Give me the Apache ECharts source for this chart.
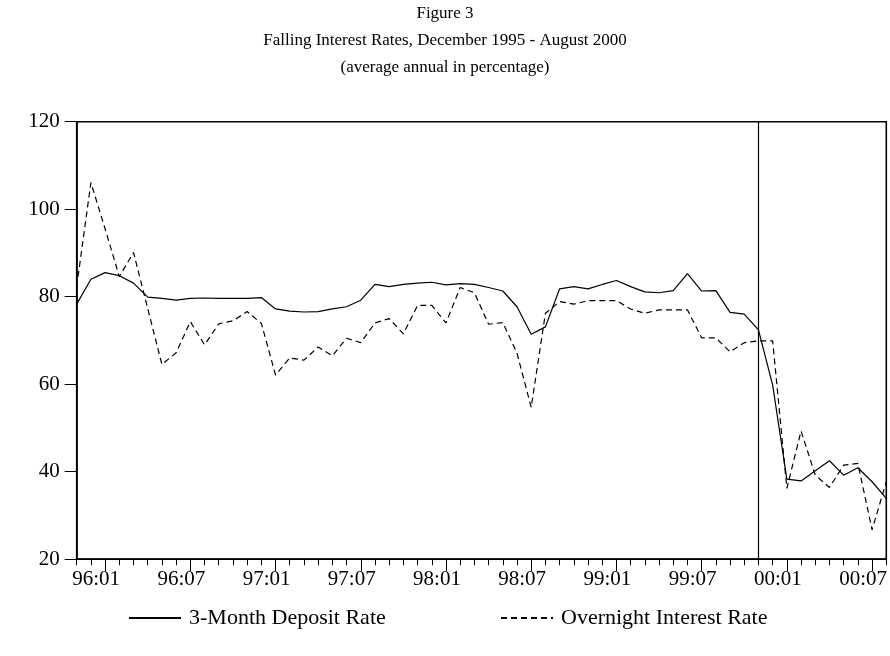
<!DOCTYPE html>
<html>
<head>
<meta charset="utf-8">
<script src="https://cdn.jsdelivr.net/npm/echarts@6/dist/echarts.min.js"></script>
<style>
  html, body { margin: 0; padding: 0; background: #ffffff; }
  #chart { width: 890px; height: 656px; }
</style>
</head>
<body>
<div id="chart"></div>
<script>
// monthly observations, 95:11 .. 00:08
const months = [
  "95:11", "95:12",
  "96:01", "96:02", "96:03", "96:04", "96:05", "96:06", "96:07", "96:08", "96:09", "96:10", "96:11", "96:12",
  "97:01", "97:02", "97:03", "97:04", "97:05", "97:06", "97:07", "97:08", "97:09", "97:10", "97:11", "97:12",
  "98:01", "98:02", "98:03", "98:04", "98:05", "98:06", "98:07", "98:08", "98:09", "98:10", "98:11", "98:12",
  "99:01", "99:02", "99:03", "99:04", "99:05", "99:06", "99:07", "99:08", "99:09", "99:10", "99:11", "99:12",
  "00:01", "00:02", "00:03", "00:04", "00:05", "00:06", "00:07", "00:08"
];

const depositRate = [
  78.3, 84.0,
  85.5, 84.8, 83.1, 79.9, 79.6, 79.2, 79.6, 79.7, 79.6, 79.6, 79.6, 79.8,
  77.2, 76.7, 76.5, 76.6, 77.2, 77.7, 79.2, 82.8, 82.3, 82.8, 83.1, 83.3,
  82.7, 83.0, 82.8, 82.1, 81.3, 77.7, 71.4, 73.1, 81.8, 82.3, 81.8, 82.8,
  83.7, 82.3, 81.1, 80.9, 81.4, 85.3, 81.3, 81.4, 76.4, 76.0, 72.4, 59.8,
  38.3, 37.9, 40.2, 42.5, 39.2, 40.9, 37.7, 33.9
];

const overnightRate = [
  82.3, 106.1,
  95.5, 84.6, 90.1, 77.3, 64.5, 67.2, 74.3, 69.0, 73.8, 74.5, 76.6, 73.9,
  62.1, 66.0, 65.5, 68.5, 66.5, 70.5, 69.5, 74.0, 75.0, 71.5, 78.0, 78.0,
  74.0, 82.1, 80.9, 73.7, 74.1, 67.1, 54.7, 76.2, 78.9, 78.3, 79.1, 79.1,
  79.1, 77.2, 76.2, 77.0, 77.0, 77.0, 70.6, 70.6, 67.4, 69.5, 69.9, 69.9,
  36.2, 49.3, 39.2, 36.4, 41.5, 41.9, 26.7, 37.7
];

const yTicks = [20, 40, 60, 80, 100, 120];
const markerMonth = "99:11";

const serif = "'Liberation Serif', 'Times New Roman', serif";
const isMajor = (index) => (index - 2) % 6 === 0;

const chart = echarts.init(document.getElementById("chart"), null, { renderer: "canvas" });

const legendBase = {
  top: 602,
  itemWidth: 52,
  itemHeight: 14,
  itemStyle: { opacity: 0 },
  textStyle: { fontFamily: serif, fontSize: 22, color: "#000000", padding: [0, 0, 0, 3] },
};

chart.setOption({
  backgroundColor: "#ffffff",
  animation: false,
  textStyle: { fontFamily: serif, color: "#000000" },
  title: {
    left: "center",
    top: 0,
    padding: 0,
    text: "Figure 3\nFalling Interest Rates, December 1995 - August 2000\n(average annual in percentage)",
    textStyle: { fontFamily: serif, fontSize: 17, fontWeight: "normal", color: "#000000", lineHeight: 27 },
  },
  legend: [
    Object.assign({ left: 123, data: ["3-Month Deposit Rate"] }, legendBase),
    Object.assign({ left: 495, data: ["Overnight Interest Rate"] }, legendBase),
  ],
  grid: {
    left: 76.7,
    right: 3.3,
    top: 121.7,
    bottom: 96.8,
    show: true,
    borderColor: "#000000",
    borderWidth: 1.6,
    backgroundColor: "transparent",
  },
  xAxis: [
    {
      type: "category",
      data: months,
      boundaryGap: false,
      axisLine: { lineStyle: { color: "#000000", width: 1.6 } },
      axisTick: { interval: 0, length: 6, lineStyle: { color: "#000000", width: 1 } },
      axisLabel: { show: false },
      splitLine: { show: false },
    },
    {
      type: "category",
      data: months,
      boundaryGap: false,
      position: "bottom",
      axisLine: { show: false },
      axisTick: { interval: (i) => isMajor(i), length: 12, lineStyle: { color: "#000000", width: 1 } },
      axisLabel: {
        interval: (i) => isMajor(i),
        fontFamily: serif,
        fontSize: 21,
        color: "#000000",
        margin: 10,
        padding: [0, 18, 0, 0],
      },
      splitLine: { show: false },
    },
  ],
  yAxis: {
    type: "value",
    min: yTicks[0],
    max: yTicks[yTicks.length - 1],
    interval: 20,
    axisLine: { show: true, lineStyle: { color: "#000000", width: 1.6 } },
    axisTick: { show: true, length: 12, lineStyle: { color: "#000000", width: 1 } },
    axisLabel: { fontFamily: serif, fontSize: 21, color: "#000000", margin: 17 },
    splitLine: { show: false },
  },
  series: [
    {
      name: "3-Month Deposit Rate",
      type: "line",
      data: depositRate,
      symbol: "none",
      lineStyle: { color: "#000000", width: 1.2 },
      itemStyle: { color: "#000000" },
      markLine: {
        silent: true,
        symbol: "none",
        label: { show: false },
        lineStyle: { color: "#000000", type: "solid", width: 1.2 },
        data: [{ xAxis: markerMonth }],
      },
      z: 3,
    },
    {
      name: "Overnight Interest Rate",
      type: "line",
      data: overnightRate,
      symbol: "none",
      lineStyle: { color: "#000000", width: 1.2, type: [6, 4] },
      itemStyle: { color: "#000000" },
      z: 2,
    },
  ],
});
</script>
</body>
</html>
